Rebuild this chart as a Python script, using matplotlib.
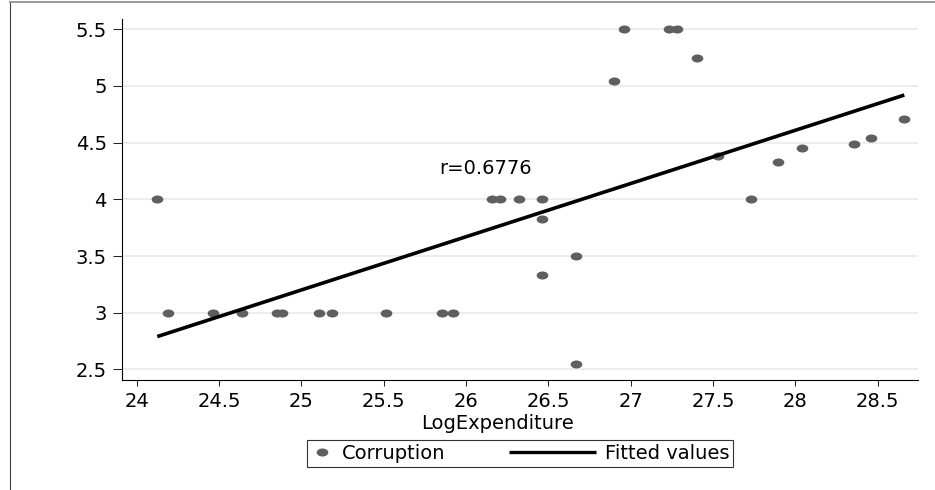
import numpy as np
import matplotlib
matplotlib.use("Agg")
import matplotlib.pyplot as plt
from matplotlib.path import Path
from matplotlib.transforms import Affine2D
from matplotlib.lines import Line2D
from matplotlib.legend_handler import HandlerLine2D

# Log expenditure vs. corruption score
log_expenditure = [
    24.125, 24.192, 24.462, 24.638, 24.851, 24.885, 25.106, 25.188, 25.513,
    25.857, 25.920, 26.157, 26.207, 26.324, 26.460, 26.460, 26.460, 26.669,
    26.669, 26.900, 26.961, 27.230, 27.284, 27.402, 27.533, 27.730, 27.896,
    28.042, 28.356, 28.461, 28.662,
]
corruption = [
    4.00, 3.00, 3.00, 3.00, 3.00, 3.00, 3.00, 3.00, 3.00,
    3.00, 3.00, 4.00, 4.00, 4.00, 4.00, 3.83, 3.33, 3.50,
    2.55, 5.04, 5.50, 5.50, 5.50, 5.25, 4.38, 4.00, 4.33,
    4.45, 4.49, 4.54, 4.71,
]
# fitted values of the linear regression at the ends of the data range
fitted_x = [24.125, 28.662]
fitted_y = [2.79, 4.92]

x_ticks = [24, 24.5, 25, 25.5, 26, 26.5, 27, 27.5, 28, 28.5]
y_ticks = [2.5, 3, 3.5, 4, 4.5, 5, 5.5]
y_tick_labels = ["2.5", "3", "3.5", "4", "4.5", "5", "5.5"]
r_label = "r=0.6776"

plt.rcParams["font.family"] = ["DejaVu Sans"]
FS = 14
W, H = 935, 490
fig = plt.figure(figsize=(W / 100, H / 100), dpi=100)
ax = fig.add_axes([121.7 / W, 1 - 380 / H, (918.3 - 121.7) / W, (380 - 19.3) / H])

# wide elliptical dot
dot = Path.unit_circle().transformed(Affine2D().scale(1.45, 1.0))
DOT_COLOR = "#5f5f5f"

ax.set_axisbelow(True)
ax.yaxis.grid(True, color="#e6edf0", linewidth=1.3)
ax.plot(log_expenditure, corruption, linestyle="none", marker=dot, markersize=8.4,
        color=DOT_COLOR, markeredgewidth=0, label="Corruption", zorder=3)
ax.plot(fitted_x, fitted_y, color="black", linewidth=2.6, label="Fitted values",
        zorder=4, solid_capstyle="butt")

ax.text(25.838, 4.221, r_label, fontsize=FS, ha="left", va="baseline")

ax.set_xlim(23.909, 28.747)
ax.set_ylim(2.407, 5.588)
ax.set_xticks(x_ticks)
ax.set_xticklabels([f"{t:g}" for t in x_ticks])
ax.set_yticks(y_ticks)
ax.set_yticklabels(y_tick_labels)
ax.tick_params(axis="x", length=4.3, width=0.75, pad=4.3, labelsize=FS, color="#222222")
ax.tick_params(axis="y", length=6.8, width=0.75, pad=4.0, labelsize=FS, color="#222222")
for side in ("top", "right"):
    ax.spines[side].set_visible(False)
for side in ("left", "bottom"):
    ax.spines[side].set_linewidth(0.8)
    ax.spines[side].set_color("black")

ax.set_xlabel("LogExpenditure", fontsize=FS)
ax.xaxis.set_label_coords(0.472, -0.1367)
ax.xaxis.label.set_verticalalignment("baseline")


class LongLineHandler(HandlerLine2D):
    """Draws the legend line reaching leftwards past the handle box."""

    def create_artists(self, legend, orig_handle, xdescent, ydescent,
                       width, height, fontsize, trans):
        yc = (height - ydescent) / 2
        line = Line2D([width - 4.47 * fontsize, width], [yc, yc],
                      color="black", linewidth=2.4, solid_capstyle="butt")
        line.set_transform(trans)
        return [line]


handles, labels = ax.get_legend_handles_labels()
leg = ax.legend(handles, labels, loc="center", ncol=2,
                bbox_to_anchor=(520 / W, 1 - 453.5 / H),
                bbox_transform=fig.transFigure,
                fontsize=FS, frameon=True, fancybox=False, framealpha=1,
                edgecolor="#333333", borderpad=0.2, handlelength=1.13,
                handletextpad=0.46, columnspacing=6.6, numpoints=1,
                handler_map={handles[1]: LongLineHandler()})
leg.get_frame().set_linewidth(0.8)

# outer frame (left and top edges)
fig.add_artist(Line2D([9.5 / W, 9.5 / W], [0, 1 - 2 / H], transform=fig.transFigure,
                      color="#404040", linewidth=0.8))
fig.add_artist(Line2D([9.5 / W, 1], [1 - 2 / H, 1 - 2 / H], transform=fig.transFigure,
                      color="#888888", linewidth=1.2))

fig.savefig("out.png", dpi=100)
